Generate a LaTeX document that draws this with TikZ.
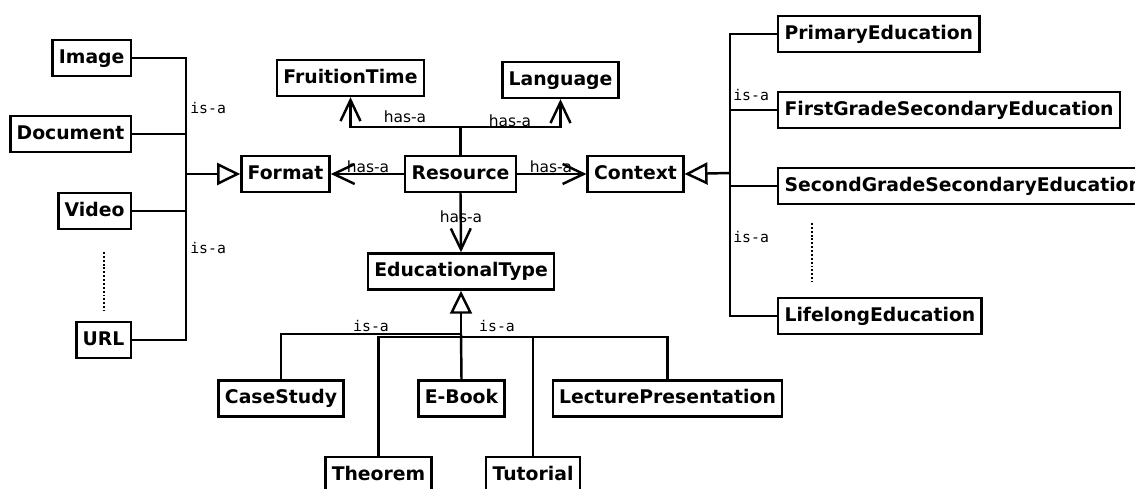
\documentclass[tikz,border=0pt]{standalone}
\usepackage{fontspec}
\setmainfont{DejaVu Sans}
\newfontfamily\isafont{DejaVu Sans Mono}
\usetikzlibrary{arrows.meta}

\tikzset{
  cls/.style={draw, line width=1.4pt, font=\fontsize{10.7}{12}\selectfont\bfseries, inner xsep=3.6pt, inner ysep=0pt, minimum height=0.72cm, text height=7.8pt, text depth=2pt},
  link/.style={line width=1.4pt},
  isa/.style={link, -{Triangle[fill=white, length=0.46cm, width=0.44cm]}},
  hasa/.style={link, -{Straight Barb[length=0.42cm, width=0.4cm]}},
  isalbl/.style={font=\isafont\fontsize{8.4}{9}\selectfont, inner sep=0pt},
  hasalbl/.style={font=\fontsize{8.8}{10}\selectfont, inner sep=0pt},
  etc/.style={line width=1.4pt, dash pattern=on 1.1pt off 1.1pt}
}

\begin{document}
\begin{tikzpicture}[x=0.02cm, y=-0.02cm]
	\useasboundingbox (0,0) rectangle (1135,489);
	\clip (0,0) rectangle (1135,489);

	% Core classes
	\node[cls] (resource) at (460.5,174) {Resource};
	\node[cls] (format) at (285.5,174) {Format};
	\node[cls] (context) at (635.5,174) {Context};
	\node[cls] (fruition) at (350.5,78) {FruitionTime};
	\node[cls] (language) at (560.5,80) {Language};
	\node[cls] (edutype) at (461,271.5) {EducationalType};

	% Format subclasses
	\node[cls, anchor=east] (image) at (132,58) {Image};
	\node[cls, anchor=east] (document) at (132,134) {Document};
	\node[cls, anchor=east] (video) at (132,211) {Video};
	\node[cls, anchor=east] (url) at (132,340) {URL};

	% Context subclasses
	\node[cls, anchor=west] (primary) at (777,34) {PrimaryEducation};
	\node[cls, anchor=west] (firstgrade) at (777,110) {FirstGradeSecondaryEducation};
	\node[cls, anchor=west] (secondgrade) at (777,186) {SecondGradeSecondaryEducation};
	\node[cls, anchor=west] (lifelong) at (777,316) {LifelongEducation};

	% EducationalType subclasses
	\node[cls] (casestudy) at (281,398.5) {CaseStudy};
	\node[cls] (ebook) at (461.5,398.5) {E-Book};
	\node[cls] (lecture) at (667.5,398.5) {LecturePresentation};
	\node[cls] (theorem) at (378.5,475) {Theorem};
	\node[cls] (tutorial) at (533,475) {Tutorial};

	% has-a links
	\coordinate (topjoin) at (460.5,127);
	\draw[link] (resource.north) -- (topjoin);
	\draw[hasa] (topjoin) -| (fruition.south);
	\draw[hasa] (topjoin) -| (language.south);
	\draw[hasa] (resource.west) -- (format.east);
	\draw[hasa] (resource.east) -- (context.west);
	\draw[hasa] (resource.south) -- (edutype.north);
	\node[hasalbl] at (405,117) {has-a};
	\node[hasalbl] at (510,121) {has-a};
	\node[hasalbl] at (368,167) {has-a};
	\node[hasalbl] at (551,167) {has-a};
	\node[hasalbl] at (461,217) {has-a};

	% is-a: Format
	\coordinate (fmtjoin) at (186,174);
	\draw[link] (image.east) -| (fmtjoin);
	\draw[link] (url.east) -| (fmtjoin);
	\draw[link] (document.east) -- (document.east -| fmtjoin);
	\draw[link] (video.east) -- (video.east -| fmtjoin);
	\draw[isa] (fmtjoin) -- (format.west);
	\draw[etc] (104,252) -- (104,310);
	\node[isalbl, anchor=west] at (190,108) {is-a};
	\node[isalbl, anchor=west] at (190,248) {is-a};

	% is-a: Context
	\coordinate (ctxjoin) at (730,173);
	\draw[link] (primary.west) -| (ctxjoin);
	\draw[link] (lifelong.west) -| (ctxjoin);
	\draw[link] (firstgrade.west) -- (firstgrade.west -| ctxjoin);
	\draw[link] (secondgrade.west) -- (secondgrade.west -| ctxjoin);
	\draw[isa] (ctxjoin) -- (context.east);
	\draw[etc] (812,223) -- (812,282);
	\node[isalbl, anchor=west] at (733,95) {is-a};
	\node[isalbl, anchor=west] at (733,237) {is-a};

	% is-a: EducationalType
	\coordinate (edujoin) at (461,334);
	\coordinate (edubus) at (461,337);
	\draw[link] (casestudy.north) |- (edujoin);
	\draw[link] (theorem.north) |- (edubus) -| (lecture.north);
	\draw[link] (tutorial.north) -- (tutorial.north |- edubus);
	\draw[link] (ebook.north) -- (edujoin);
	\draw[isa] (edujoin) -- (edutype.south);
	\node[isalbl] at (371,326) {is-a};
	\node[isalbl] at (497,326) {is-a};
\end{tikzpicture}
\end{document}
